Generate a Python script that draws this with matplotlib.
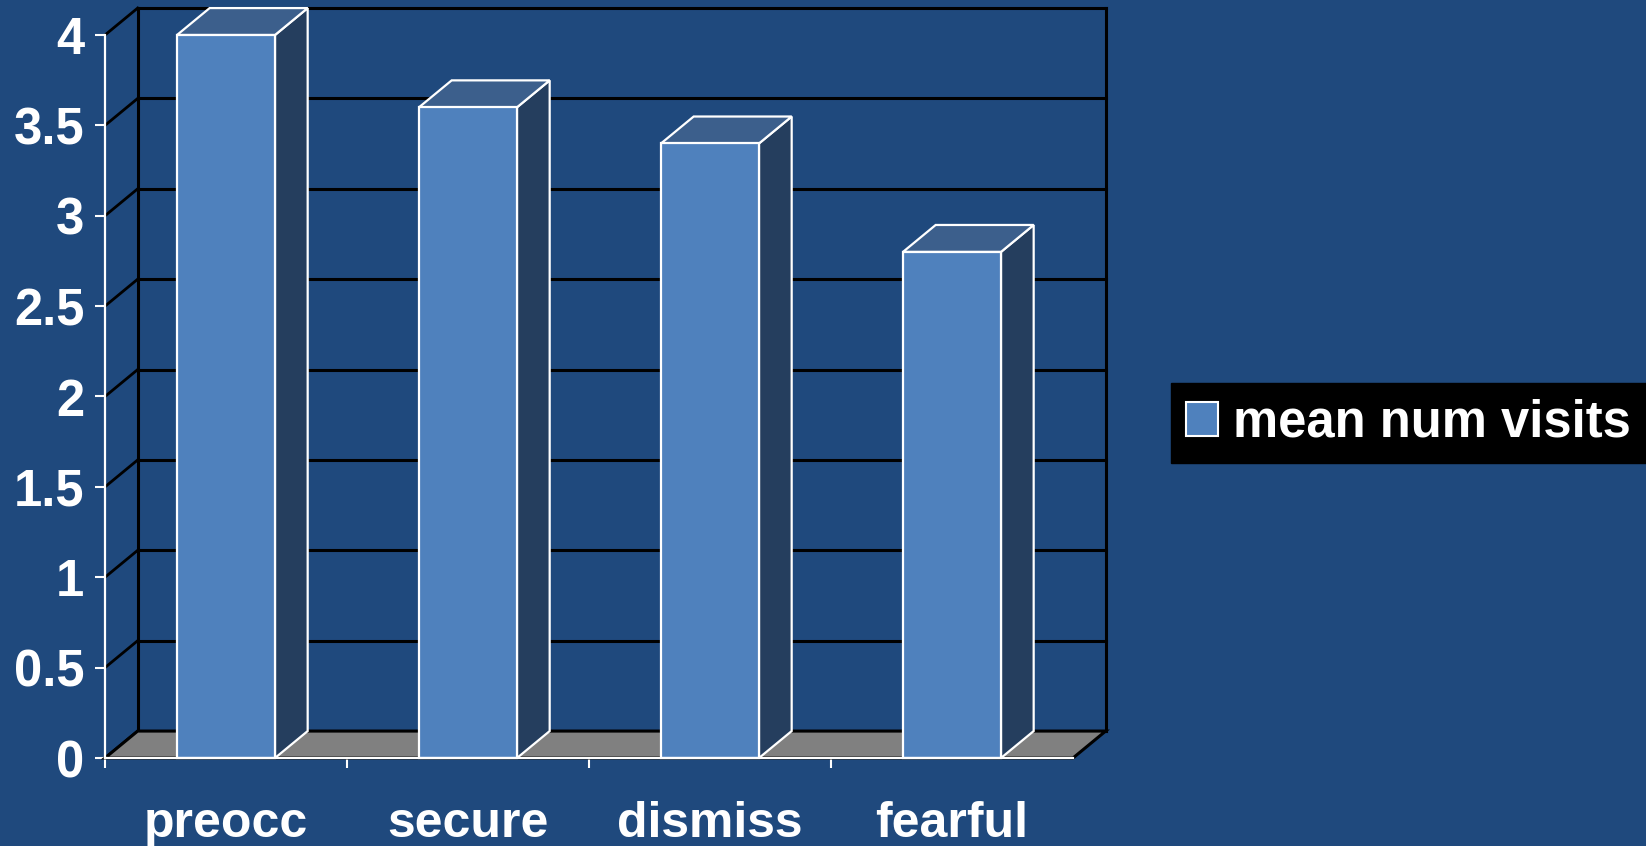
import matplotlib
matplotlib.use("Agg")
import matplotlib.pyplot as plt
from matplotlib.patches import Polygon, Rectangle, Patch

# Data
categories = ["preocc", "secure", "dismiss", "fearful"]
mean_num_visits = [4.0, 3.6, 3.4, 2.8]
y_ticks = [0, 0.5, 1, 1.5, 2, 2.5, 3, 3.5, 4]
y_tick_labels = ["0", "0.5", "1", "1.5", "2", "2.5", "3", "3.5", "4"]
series_name = "mean num visits"

# Colours
BG = "#1F497D"
FRONT = "#4F81BD"
TOP = "#3C5F8C"
SIDE = "#253E5E"
FLOOR = "#808080"

plt.rcParams["font.family"] = ["Liberation Sans", "DejaVu Sans"]
plt.rcParams["font.weight"] = "bold"

fig = plt.figure(figsize=(16.46, 8.46), dpi=100, facecolor=BG)
ax = fig.add_axes([105 / 1646, 88 / 846, 968 / 1646, 723 / 846])
ax.set_facecolor("none")

n = len(categories)
ymax = y_ticks[-1]
ax.set_xlim(0, n)
ax.set_ylim(0, ymax)

# Oblique depth offset of the 3-D box (data units)
dx, dy = 0.135, 0.149
bar_w = 0.405

# Back wall and side wall gridlines
for v in y_ticks:
    ax.plot([dx, n + dx], [v + dy, v + dy], color="black", lw=2.2,
            clip_on=False, zorder=1, solid_capstyle="projecting")
    ax.plot([0, dx], [v, v + dy], color="black", lw=2.0, clip_on=False, zorder=1)
ax.plot([dx, dx], [dy, ymax + dy], color="black", lw=2.2, clip_on=False, zorder=1)
ax.plot([n + dx, n + dx], [dy, ymax + dy], color="black", lw=2.2, clip_on=False, zorder=1)

# Floor
floor = Polygon([(0, 0), (n, 0), (n + dx, dy), (dx, dy)], closed=True,
                facecolor=FLOOR, edgecolor="black", lw=2.2, clip_on=False, zorder=2)
ax.add_patch(floor)

# 3-D columns
for i, v in enumerate(mean_num_visits):
    x0 = i + 0.5 - bar_w / 2
    x1 = i + 0.5 + bar_w / 2
    z = 3 + i * 0.1
    side = Polygon([(x1, 0), (x1 + dx, dy), (x1 + dx, v + dy), (x1, v)], closed=True,
                   facecolor=SIDE, edgecolor="white", lw=1.6, clip_on=False,
                   zorder=z, joinstyle="miter")
    top = Polygon([(x0, v), (x1, v), (x1 + dx, v + dy), (x0 + dx, v + dy)], closed=True,
                  facecolor=TOP, edgecolor="white", lw=1.6, clip_on=False,
                  zorder=z, joinstyle="miter")
    front = Rectangle((x0, 0), bar_w, v, facecolor=FRONT, edgecolor="white",
                      lw=1.6, clip_on=False, zorder=z + 0.05, joinstyle="miter")
    ax.add_patch(side)
    ax.add_patch(top)
    ax.add_patch(front)

# Axes
for s in ("top", "right"):
    ax.spines[s].set_visible(False)
for s in ("left", "bottom"):
    ax.spines[s].set_color("white")
    ax.spines[s].set_linewidth(1.6)
    ax.spines[s].set_zorder(10)

ax.set_yticks(y_ticks)
ax.set_yticklabels(y_tick_labels)
ax.tick_params(axis="y", colors="white", length=7, width=1.5, pad=8,
               labelsize=36.5, direction="out")

ax.set_xticks(range(n))
ax.set_xticklabels([])
ax.set_xticks([i + 0.5 for i in range(n)], minor=True)
ax.set_xticklabels(categories, minor=True)
ax.tick_params(axis="x", which="major", colors="white", length=7, width=1.5,
               direction="out")
ax.tick_params(axis="x", which="minor", colors="white", length=0, pad=31,
               labelsize=36)
for lbl in ax.get_xticklabels(minor=True) + ax.get_yticklabels():
    lbl.set_fontweight("bold")

# Legend
leg = fig.legend(handles=[Patch(facecolor=FRONT, edgecolor="white", lw=1.5)],
                 labels=[series_name], loc="center right",
                 bbox_to_anchor=(1.0, 0.5), bbox_transform=fig.transFigure,
                 fontsize=36.5, frameon=True, fancybox=False, borderaxespad=0,
                 handlelength=0.62, handleheight=0.66, handletextpad=0.3,
                 borderpad=0.3)
frame = leg.get_frame()
frame.set_facecolor("black")
frame.set_edgecolor("black")
frame.set_alpha(1)
for t in leg.get_texts():
    t.set_color("white")
    t.set_fontweight("bold")

fig.savefig("out.png", dpi=100, facecolor=BG)
